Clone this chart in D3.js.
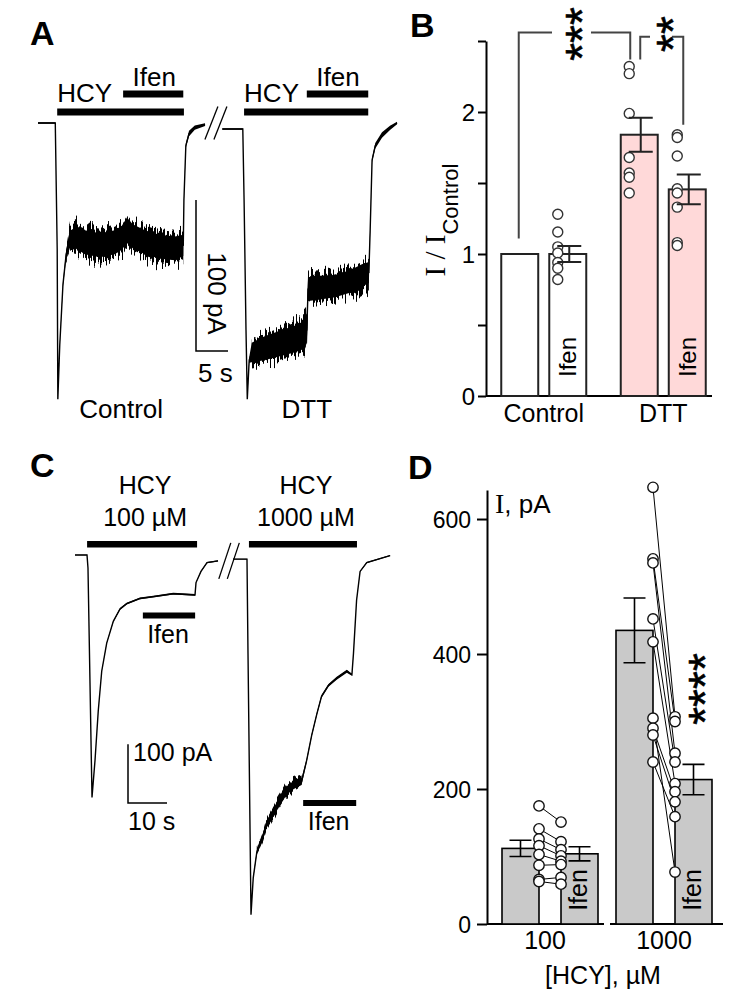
<!DOCTYPE html>
<html><head><meta charset="utf-8">
<script src="https://cdn.jsdelivr.net/npm/d3@7"></script>
<style>
body{margin:0;background:#fff}
svg{display:block}
text{font-family:"Liberation Sans",Arial,sans-serif;fill:#000}
</style>
</head><body>
<svg id="fig" width="747" height="998"></svg>
<script>
// ================= DATA =================
// Panel A traces: [time (s), current (pA), noise half-width (pA)]
const traceAControl = [[0,0,0.7],[2.7,0,0.7],[3.0,-84,0.3],[3.1,-183,0.3],[3.4,-147,0.7],[3.9,-107,2],[4.4,-87,4],[5.0,-77,8],[6.1,-76,10.6],[7.3,-79,11.3],[9.7,-81,11.3],[12.0,-79,11.3],[13.1,-76,11.3],[13.9,-71,12],[14.8,-75,11.3],[16.7,-79,11.3],[19.1,-82,11.3],[21.4,-83,11.3],[22.7,-81,10],[22.8,-51,1.3],[23.1,-15,2],[23.6,-7,2.6],[24.5,-3,2],[26.1,-1,1.3]];
const traceADTT = [[28.8,-4,0.7],[32.0,-4,0.7],[32.2,-51,0.3],[32.5,-137,0.3],[32.7,-183,0.5],[33.0,-157,2.6],[33.4,-152,9.3],[35.5,-149,11.3],[37.8,-146,12],[40.2,-143,12.6],[41.7,-140,13.2],[42.0,-137,12],[42.2,-110,11.3],[44.1,-109,11.3],[46.4,-108,10.6],[48.75,-105,10.6],[50.6,-101,10.6],[51.7,-99,10],[51.9,-71,1.3],[52.2,-24.5,2],[52.7,-15,2.6],[53.75,-8,2.6],[55.0,-3.3,2],[56.1,0,1.3]];
const stimALabel = ["HCY","Ifen","HCY","Ifen"];
const stimAStart = [3.0,13.3,32.2,42.0];
const stimAEnd = [22.8,22.7,51.6,51.6];
const conditionA = ["Control","DTT"];

// Panel B: normalised current I / I_Control
const groupsB = ["Control","DTT"];
const condB = ["HCY","Ifen"];
const meanBControl = [1.00, 1.00];
const semBControl = [0, 0.056];
const meanBDTT = [1.84, 1.455];
const semBDTT = [0.12, 0.105];
const ptsBControlIfen = [1.28,1.155,1.05,1.007,0.94,0.90,0.82];
const ptsBDTT = [2.32,2.27,1.99,1.68,1.57,1.54,1.43];
const ptsBDTTIfen = [1.84,1.82,1.69,1.46,1.43,1.33,1.08,1.06];
const ticksB = [0,0.5,1,1.5,2,2.5];

// Panel C traces: [time (s), current (pA), noise half-width (pA)]
const traceC100 = [[0,0,1],[3.08,0,1],[3.33,-22,0.5],[4.36,-413,0.5],[5.13,-350,0.5],[5.97,-265,0.6],[6.85,-198,1],[8.13,-150,1.5],[9.82,-113,2],[11.54,-92,2.5],[13.26,-83,2.5],[16.67,-74,2.5],[20.08,-71,2.5],[25.2,-66,2.5],[30.77,-68,2.5],[31.03,-47,1.5],[32.3,-28,1.5],[33.85,-13,1.5],[36.67,-10,1.5]];
const traceC1000 = [[40.51,-7,1],[44.1,-7,1],[44.36,-168,0.5],[45.13,-613,0.5],[45.7,-550,2],[46.6,-507,6],[48.3,-477,9],[49.1,-459,10],[51.7,-429,12],[54.3,-401,12],[56.0,-392,12],[58.1,-386,10],[59.4,-350,5],[60.7,-307,4],[62.0,-271,4],[63.2,-241,4],[65.0,-222,4],[67.1,-210,4],[69.7,-198,4],[71.0,-204,3],[71.4,-168,1],[72.2,-77,1],[73.1,-28,1.5],[74.8,-13,1.5],[80.8,-1,1.5]];
const hcyCStart = [3.1,44.6];
const hcyCEnd = [31.3,72.3];
const hcyCConc = ["100 µM","1000 µM"];
const ifenCStart = [17.4,58.5];
const ifenCEnd = [30.8,72.1];

// Panel D: current (pA)
const groupsD = ["100","1000"];
const meanD100 = [112, 104];
const semD100 = [12, 10.5];
const meanD1000 = [435, 214];
const semD1000 = [48, 22.5];
const pairsD100 = [[175,151],[141,122],[126,110],[116,101],[103,93],[87,88],[66,69],[63,59]];
const pairsD1000 = [[647,307],[541,300],[535,253],[452,240],[418,208],[305,77],[290,196],[280,181],[240,159]];
const ticksD = [0,200,400,600];

// ================= DRAW =================
const svg = d3.select("#fig");
const SANS = '"Liberation Sans",Arial,sans-serif';
const SERIF = '"Liberation Serif","Times New Roman",serif';

// texture filters that give the noisy bands a ragged, recording-like edge
const defs = svg.append("defs");
function jitterFilter(id, scale, fx, seed){
  const f = defs.append("filter").attr("id",id).attr("filterUnits","userSpaceOnUse")
    .attr("x",0).attr("y",0).attr("width",747).attr("height",998)
    .attr("color-interpolation-filters","sRGB");
  f.append("feTurbulence").attr("type","fractalNoise").attr("baseFrequency",`${fx} 0.012`)
    .attr("numOctaves",2).attr("seed",seed).attr("result","t");
  f.append("feColorMatrix").attr("in","t").attr("type","matrix")
    .attr("values","0 0 0 0 0.5  0 1 0 0 0  0 0 0 0 0  0 0 0 0 1").attr("result","m");
  f.append("feDisplacementMap").attr("in","SourceGraphic").attr("in2","m").attr("scale",scale)
    .attr("xChannelSelector","R").attr("yChannelSelector","G");
}
jitterFilter("jitA",34,0.55,4);
jitterFilter("jitC",14,0.45,7);

function letter(x,y,t){
  svg.append("text").attr("x",x).attr("y",y).attr("font-size",34).attr("font-weight","bold").text(t);
}
function trace(g,data,x,y,filt,thr,core){
  const band = (k)=>d3.area().x(d=>x(d[0])).y0(d=>y(d[1]-k*d[2])).y1(d=>y(d[1]+k*d[2]));
  const noisy = data.filter(d=>d[2]>=thr);
  if(noisy.length>1){
    g.append("path").attr("d",band(0.85)(noisy)).attr("fill","#000").attr("filter",`url(#${filt})`);
  }
  g.append("path").attr("d",band(core)(data)).attr("fill","#000");
  const line = d3.line().x(d=>x(d[0])).y(d=>y(d[1]));
  g.append("path").attr("d",line(data)).attr("fill","none").attr("stroke","#000").attr("stroke-width",1.4);
}
function breakMark(g,cx,cy,dx,dy,sep){
  [-sep/2,sep/2].forEach(o=>{
    g.append("line").attr("x1",cx+o-dx/2).attr("y1",cy+dy/2).attr("x2",cx+o+dx/2).attr("y2",cy-dy/2)
     .attr("stroke","#000").attr("stroke-width",1.3);
  });
}
function stars(g,cx,cy,n,size){
  g.append("text").attr("transform",`translate(${cx+0.575*size},${cy}) rotate(-90)`)
   .attr("text-anchor","middle").attr("font-size",size).attr("font-family",SANS)
   .attr("stroke","#000").attr("stroke-width",0.6).text("*".repeat(n));
}

// ---------- Panel A ----------
letter(30,45,"A");
const gA = svg.append("g");
const xA = d3.scaleLinear().domain([0,5]).range([38,70]);
const yA = d3.scaleLinear().domain([0,-100]).range([123,274]);
trace(gA,traceAControl,xA,yA,"jitA",4,0.7);
trace(gA,traceADTT,xA,yA,"jitA",4,0.7);
breakMark(gA,xA(27.8),yA(0),13,33,9);
stimALabel.forEach((lab,i)=>{
  const row = lab==="HCY"?112:94;
  gA.append("rect").attr("x",xA(stimAStart[i])).attr("y",row-3.5)
    .attr("width",xA(stimAEnd[i])-xA(stimAStart[i])).attr("height",7).attr("fill","#000");
  gA.append("text").attr("x",xA(stimAStart[i])+(lab==="HCY"?0:9.5)).attr("y",row-(lab==="HCY"?10:8))
    .attr("font-size",26).text(lab);
});
[xA(13.0), xA(42.0)].forEach((cx,i)=>{
  gA.append("text").attr("x",cx).attr("y",418).attr("text-anchor","middle").attr("font-size",26).text(conditionA[i]);
});
{
  const x0=196, y0=351;
  gA.append("path").attr("d",`M${x0},${y0-(yA(-100)-yA(0))}V${y0}H${x0+(xA(5)-xA(0))}`)
    .attr("fill","none").attr("stroke","#000").attr("stroke-width",1.5);
  gA.append("text").attr("transform",`translate(208,${(y0+y0-(yA(-100)-yA(0)))/2+18}) rotate(90)`)
    .attr("text-anchor","middle").attr("font-size",26).text("100 pA");
  gA.append("text").attr("x",198).attr("y",382).attr("font-size",26).text("5 s");
}

// ---------- Panel B ----------
letter(410,37,"B");
const gB = svg.append("g");
const yB = d3.scaleLinear().domain([0,2.5]).range([396,41]);
const xB = d3.scaleBand().domain(groupsB).range([484,723]);
const innerB = d3.scaleBand().domain(condB).range([17.25,102.25]).paddingInner(0.23);
const axB = gB.append("g").attr("transform","translate(486,0)")
  .call(d3.axisLeft(yB).tickValues(ticksB).tickFormat(d=>[0,1,2].includes(d)?d:"").tickSize(8).tickSizeOuter(0).tickPadding(3));
axB.selectAll("path,line").attr("stroke","#000").attr("stroke-width",2);
axB.selectAll("text").attr("font-size",24).attr("font-family",SANS).attr("dy","0.36em");
gB.append("line").attr("x1",486).attr("x2",712).attr("y1",yB(0)).attr("y2",yB(0)).attr("stroke","#000").attr("stroke-width",2);
const barsB = [
  {g:"Control",c:"HCY",m:meanBControl[0],e:semBControl[0],fill:"#ffffff",pts:[]},
  {g:"Control",c:"Ifen",m:meanBControl[1],e:semBControl[1],fill:"#ffffff",pts:ptsBControlIfen},
  {g:"DTT",c:"HCY",m:meanBDTT[0],e:semBDTT[0],fill:"#ffd9d9",pts:ptsBDTT},
  {g:"DTT",c:"Ifen",m:meanBDTT[1],e:semBDTT[1],fill:"#ffd9d9",pts:ptsBDTTIfen}
];
barsB.forEach(b=>{
  const x = xB(b.g)+innerB(b.c), w = innerB.bandwidth(), cx = x+w/2;
  gB.append("rect").attr("x",x).attr("y",yB(b.m)).attr("width",w).attr("height",yB(0)-yB(b.m))
    .attr("fill",b.fill).attr("stroke","#222").attr("stroke-width",2);
  b.pts.forEach(v=>{
    gB.append("circle").attr("cx",cx-10).attr("cy",yB(v)).attr("r",5).attr("fill","#fff").attr("stroke","#333").attr("stroke-width",1.4);
  });
  if(b.e>0){
    const ex = cx+1.5;
    gB.append("path").attr("d",`M${ex},${yB(b.m+b.e)}V${yB(b.m-b.e)}M${ex-12},${yB(b.m+b.e)}H${ex+12}M${ex-12},${yB(b.m-b.e)}H${ex+12}`)
      .attr("stroke","#222").attr("stroke-width",2).attr("fill","none");
  }
  if(b.c==="Ifen"){
    gB.append("text").attr("transform",`translate(${cx+8.5},${yB(0.275)}) rotate(-90)`)
      .attr("text-anchor","middle").attr("font-size",24).text("Ifen");
  }
});
groupsB.forEach(gname=>{
  gB.append("text").attr("x",xB(gname)+xB.bandwidth()/2).attr("y",422).attr("text-anchor","middle").attr("font-size",25).text(gname);
});
{
  const t = gB.append("text").attr("transform","translate(445,220) rotate(-90)").attr("text-anchor","middle");
  t.append("tspan").attr("font-family",SERIF).attr("font-size",29).text("I / I");
  t.append("tspan").attr("font-family",SANS).attr("font-size",22).attr("dy",13).text("Control");
}
{
  const c1 = xB("Control")+innerB("HCY")+innerB.bandwidth()/2;
  const c3 = xB("DTT")+innerB("HCY")+innerB.bandwidth()/2;
  const c4 = xB("DTT")+innerB("Ifen")+innerB.bandwidth()/2;
  const br = (d)=>gB.append("path").attr("d",d).attr("fill","none").attr("stroke","#444").attr("stroke-width",2);
  br(`M${c1-1},${yB(1.11)}V${yB(2.56)}H552M591,${yB(2.56)}H${c3-9}V${yB(2.37)}`);
  br(`M${c3+1},${yB(2.37)}V${yB(2.53)}H650M672,${yB(2.53)}H${c4-4}V${yB(1.91)}`);
  stars(gB,572,34,3,46);
  stars(gB,663,34,2,46);
}

// ---------- Panel C ----------
letter(30,477,"C");
const gC = svg.append("g");
const xC = d3.scaleLinear().domain([0,10]).range([75,114]);
const yC = d3.scaleLinear().domain([0,-100]).range([555,613.7]);
trace(gC,traceC100,xC,yC,"jitC",99,0.6);
trace(gC,traceC1000,xC,yC,"jitC",6,0.6);
breakMark(gC,xC(39.5),yC(-10),12,36,8.5);
hcyCStart.forEach((t0,i)=>{
  const x0=xC(t0), x1=xC(hcyCEnd[i]), cx=(x0+x1)/2+3;
  gC.append("rect").attr("x",x0).attr("y",541).attr("width",x1-x0).attr("height",6.5).attr("fill","#000");
  gC.append("text").attr("x",cx).attr("y",493.5).attr("text-anchor","middle").attr("font-size",25).text("HCY");
  gC.append("text").attr("x",cx).attr("y",525.5).attr("text-anchor","middle").attr("font-size",25).text(hcyCConc[i]);
});
[615.5,803].forEach((yy,i)=>{
  const x0=xC(ifenCStart[i]), x1=xC(ifenCEnd[i]);
  gC.append("rect").attr("x",x0).attr("y",yy-3).attr("width",x1-x0).attr("height",6).attr("fill","#000");
  gC.append("text").attr("x",(x0+x1)/2-1).attr("y",yy+27).attr("text-anchor","middle").attr("font-size",25).text("Ifen");
});
{
  const x0=128, y0=803;
  gC.append("path").attr("d",`M${x0},${y0-(yC(-100)-yC(0))}V${y0}H${x0+(xC(10)-xC(0))}`)
    .attr("fill","none").attr("stroke","#000").attr("stroke-width",1.5);
  gC.append("text").attr("x",133).attr("y",760.5).attr("font-size",25).text("100 pA");
  gC.append("text").attr("x",128).attr("y",830).attr("font-size",25).text("10 s");
}

// ---------- Panel D ----------
letter(408,479,"D");
const gD = svg.append("g");
const yD = d3.scaleLinear().domain([0,643]).range([924,490]);
const xD = d3.scaleBand().domain(groupsD).range([493,721]);
const innerD = d3.scaleBand().domain(["HCY","Ifen"]).range([9,105]).paddingInner(0.373);
const axD = gD.append("g").attr("transform","translate(487,0)")
  .call(d3.axisLeft(yD).tickValues(ticksD).tickSize(10).tickSizeOuter(0).tickPadding(6));
axD.selectAll("path,line").attr("stroke","#000").attr("stroke-width",2);
axD.selectAll("text").attr("font-size",23).attr("font-family",SANS).attr("dy","0.36em");
{
  const bnd = xD("1000");
  gD.append("line").attr("x1",487).attr("x2",bnd-3).attr("y1",yD(0)).attr("y2",yD(0)).attr("stroke","#000").attr("stroke-width",2);
  gD.append("line").attr("x1",bnd+3).attr("x2",723).attr("y1",yD(0)).attr("y2",yD(0)).attr("stroke","#000").attr("stroke-width",2);
}
const dGroups = [
  {g:"100",m:meanD100,e:semD100,pairs:pairsD100},
  {g:"1000",m:meanD1000,e:semD1000,pairs:pairsD1000}
];
dGroups.forEach(G=>{
  const bw = innerD.bandwidth();
  ["HCY","Ifen"].forEach((c,i)=>{
    const x = xD(G.g)+innerD(c), cx = x+bw/2, m=G.m[i], e=G.e[i];
    gD.append("rect").attr("x",x).attr("y",yD(m)).attr("width",bw).attr("height",yD(0)-yD(m))
      .attr("fill","#c9c9c9").attr("stroke","#000").attr("stroke-width",1.6);
    gD.append("path").attr("d",`M${cx},${yD(m+e)}V${yD(m-e)}M${cx-11},${yD(m+e)}H${cx+11}M${cx-11},${yD(m-e)}H${cx+11}`)
      .attr("stroke","#000").attr("stroke-width",1.6).attr("fill","none");
    if(c==="Ifen"){
      gD.append("text").attr("transform",`translate(${cx+7.5},${yD(0)-34}) rotate(-90)`)
        .attr("text-anchor","middle").attr("font-size",25).text("Ifen");
    }
  });
  const xl = xD(G.g)+innerD("HCY")+bw, xr = xD(G.g)+innerD("Ifen");
  G.pairs.forEach(p=>{
    gD.append("line").attr("x1",xl).attr("y1",yD(p[0])).attr("x2",xr).attr("y2",yD(p[1])).attr("stroke","#000").attr("stroke-width",1);
  });
  G.pairs.forEach(p=>{
    [[xl,p[0]],[xr,p[1]]].forEach(q=>{
      gD.append("circle").attr("cx",q[0]).attr("cy",yD(q[1])).attr("r",5.2).attr("fill","#fff").attr("stroke","#111").attr("stroke-width",1.4);
    });
  });
  gD.append("text").attr("x",xD(G.g)+xD.bandwidth()/2 - (G.g==="100"?5:0)).attr("y",949).attr("text-anchor","middle").attr("font-size",25).text(G.g);
});
gD.append("text").attr("x",603).attr("y",984).attr("text-anchor","middle").attr("font-size",25).text("[HCY], µM");
{
  const t = gD.append("text").attr("x",495).attr("y",513);
  t.append("tspan").attr("font-family",SERIF).attr("font-size",28).text("I");
  t.append("tspan").attr("font-family",SANS).attr("font-size",26).text(", pA");
}
stars(gD,695,689,4,46);
</script>
</body></html>
